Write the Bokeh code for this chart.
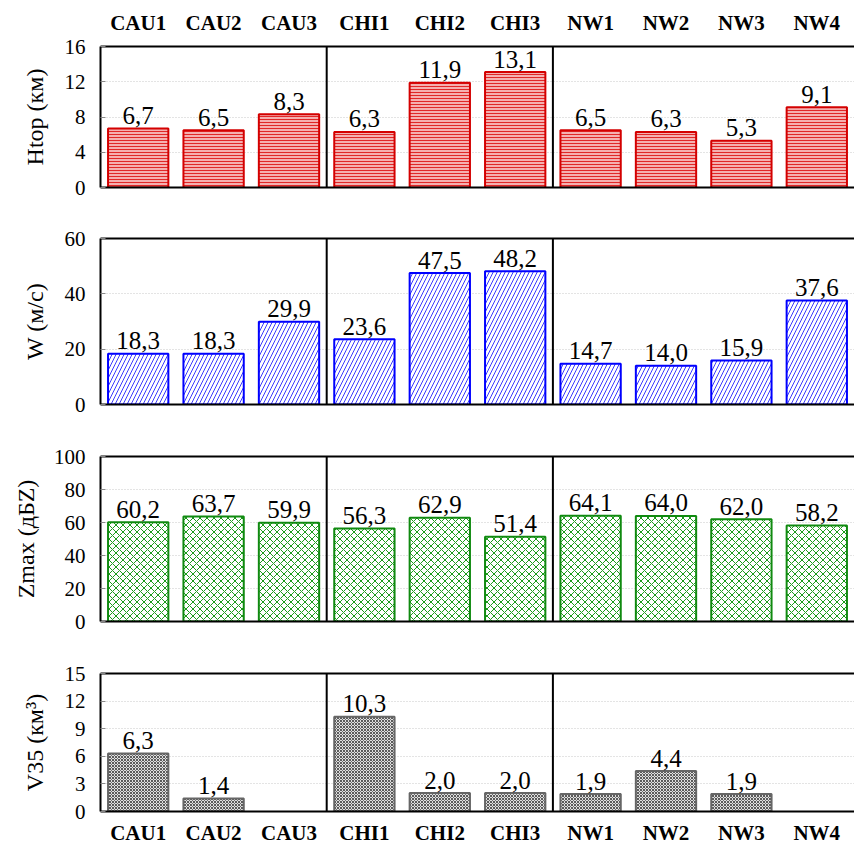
from bokeh.plotting import figure
from bokeh.layouts import column
from bokeh.models import (ColumnDataSource, Range1d, FactorRange, CategoricalAxis,
                          Span, SingleIntervalTicker)
from bokeh.core.properties import value
from bokeh.embed import file_html
from bokeh.resources import INLINE

categories = ["CAU1", "CAU2", "CAU3", "CHI1", "CHI2", "CHI3", "NW1", "NW2", "NW3", "NW4"]
htop = [6.7, 6.5, 8.3, 6.3, 11.9, 13.1, 6.5, 6.3, 5.3, 9.1]
w_vals = [18.3, 18.3, 29.9, 23.6, 47.5, 48.2, 14.7, 14.0, 15.9, 37.6]
zmax = [60.2, 63.7, 59.9, 56.3, 62.9, 51.4, 64.1, 64.0, 62.0, 58.2]
v35 = [6.3, 1.4, None, 10.3, 2.0, 2.0, 1.9, 4.4, 1.9, None]
group_bounds = [3, 6]

panels = [
    dict(vals=htop, label="Htop (км)", ymax=16, step=4,
         fill="#f5b0b0", hatch="-", hcolor="#e02828", hscale=3, line="#d40000",
         h=212, top=46, bottom=25, lstand=14),
    dict(vals=w_vals, label="W (м/с)", ymax=60, step=20,
         fill="white", hatch="/", hcolor="#3a3aff", hscale=8, line="#0000ff",
         h=218, top=26, bottom=26, lstand=14),
    dict(vals=zmax, label="Zmax (дБZ)", ymax=100, step=20,
         fill="white", hatch="x", hcolor="#1a9a1a", hscale=7, line="#108a10",
         h=217, top=26, bottom=26, lstand=12),
    dict(vals=v35, label="V35 (км³)", ymax=15, step=3,
         fill="#e0e0e0", hatch="x", hcolor="#5a5a5a", hscale=3, line="#666666",
         h=200, top=26, bottom=34, lstand=14),
]

SERIF = "Liberation Serif"
figs = []
for i, pd in enumerate(panels):
    p = figure(x_range=FactorRange(factors=categories), y_range=Range1d(0, pd["ymax"]),
               width=854, height=pd["h"], output_backend="svg", toolbar_location=None,
               min_border_left=100, min_border_right=0,
               min_border_top=pd["top"], min_border_bottom=pd["bottom"],
               x_axis_location=None)
    p.outline_line_color = None
    xs = [c for c, v in zip(categories, pd["vals"]) if v is not None]
    ys = [v for v in pd["vals"] if v is not None]
    txt = [f"{v:.1f}".replace(".", ",") for v in ys]
    src = ColumnDataSource(dict(x=xs, top=ys, txt=txt))
    p.vbar(x="x", top="top", width=0.8, source=src, fill_color=pd["fill"],
           hatch_pattern=pd["hatch"], hatch_color=pd["hcolor"], hatch_scale=pd["hscale"],
           hatch_weight=1, line_color=pd["line"], line_width=2)
    p.text(x="x", y="top", text="txt", source=src, text_align="center",
           text_baseline="alphabetic", y_offset=-13, text_font=value(SERIF),
           text_font_size="25px", text_color="black")
    for b in group_bounds:
        p.add_layout(Span(location=b, dimension="height", line_color="black", line_width=2))

    p.xgrid.visible = False
    p.ygrid.grid_line_color = "#c8c8c8"
    p.ygrid.grid_line_dash = "1 2"
    p.ygrid.ticker = SingleIntervalTicker(interval=pd["step"])

    ya = p.yaxis[0]
    ya.ticker = SingleIntervalTicker(interval=pd["step"])
    ya.axis_line_color = "black"
    ya.axis_line_width = 2
    ya.major_tick_in = 5
    ya.major_tick_out = 0
    ya.major_tick_line_color = "#888888"
    ya.minor_tick_line_color = None
    ya.major_label_standoff = 11
    ya.major_label_text_font = SERIF
    ya.major_label_text_font_size = "21px"
    ya.major_label_text_color = "black"
    ya.axis_label = pd["label"]
    ya.axis_label_text_font = SERIF
    ya.axis_label_text_font_size = "24px"
    ya.axis_label_text_font_style = "normal"
    ya.axis_label_text_color = "black"
    ya.axis_label_standoff = pd["lstand"]

    for loc in ("above", "below"):
        ax = CategoricalAxis()
        ax.axis_line_color = "black"
        ax.axis_line_width = 2
        ax.major_tick_line_color = None
        ax.minor_tick_line_color = None
        ax.major_tick_out = 0
        ax.major_tick_in = 0
        show_labels = (loc == "above" and i == 0) or (loc == "below" and i == len(panels) - 1)
        if show_labels:
            ax.major_label_text_font = SERIF
            ax.major_label_text_font_size = "21px"
            ax.major_label_text_font_style = "bold"
            ax.major_label_text_color = "black"
            ax.major_label_standoff = 12 if loc == "above" else 9
        else:
            ax.major_label_text_color = None
            ax.major_label_text_font_size = "2px"
            ax.major_label_standoff = 0
        p.add_layout(ax, loc)
    figs.append(p)

layout = column(*figs, spacing=0)
open("out.html", "w").write(file_html(layout, INLINE))
